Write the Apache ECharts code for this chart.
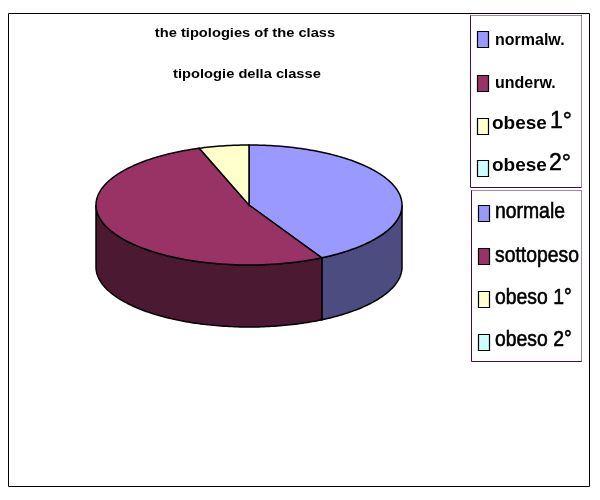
<!DOCTYPE html>
<html>
<head>
<meta charset="utf-8">
<style>html,body{margin:0;padding:0;background:#fff}#c{width:600px;height:500px}</style>
<script src="https://cdn.jsdelivr.net/npm/echarts@6/dist/echarts.min.js"></script>
</head>
<body>
<div id="c"></div>
<script>
const titles = ['the tipologies of the class', 'tipologie della classe'];
const labelsEn = ['normalw.', 'underw.', 'obese', 'obese'];
const labelsEnSuffix = ['', '', '1°', '2°'];
const labelsIt = ['normale', 'sottopeso', 'obeso 1°', 'obeso 2°'];
const values = [8, 10, 1, 0];
const topColors = ['#9999FF', '#993366', '#FFFFCC', '#CCFFFF'];
const sideColors = ['#4C4C80', '#4C1933', '#808066', '#668080'];

const CX = 249, CY = 205, RX = 153, RY = 60, DEPTH = 62;
const total = values.reduce((a, b) => a + b, 0);
const FONT = '"Liberation Sans", Arial, sans-serif';

function pt(deg, dy) {
  const r = deg * Math.PI / 180;
  return [CX + RX * Math.sin(r), CY - RY * Math.cos(r) + (dy || 0)];
}
function arc(a0, a1, dy) {
  const pts = [];
  const n = Math.max(1, Math.ceil(Math.abs(a1 - a0)));
  for (let i = 0; i <= n; i++) pts.push(pt(a0 + (a1 - a0) * i / n, dy));
  return pts;
}
function startAngle(i) {
  let s = 0;
  for (let k = 0; k < i; k++) s += values[k];
  return s / total * 360;
}
function renderWall(params, api) {
  const i = params.dataIndex;
  const a0 = Math.max(startAngle(i), 90);
  const a1 = Math.min(startAngle(i) + api.value(1) / total * 360, 270);
  if (a1 <= a0) return null;
  const points = arc(a0, a1, 0).concat(arc(a1, a0, DEPTH));
  return {
    type: 'polygon',
    shape: { points },
    style: { fill: sideColors[i], stroke: '#000', lineWidth: 1.5 }
  };
}
function renderTop(params, api) {
  const i = params.dataIndex;
  const v = api.value(1);
  if (v <= 0) return null;
  const a0 = startAngle(i), a1 = a0 + v / total * 360;
  const points = [[CX, CY]].concat(arc(a0, a1, 0));
  return {
    type: 'polygon',
    shape: { points },
    style: { fill: topColors[i], stroke: '#000', lineWidth: 1.5 }
  };
}

function legendBox(x, y, w, h) {
  const dotted = { fill: 'none', stroke: '#3a0f4a', lineWidth: 1, lineDash: [1, 1] };
  return [
    { type: 'rect', z: 5, shape: { x, y, width: w, height: h }, style: { fill: '#fff', stroke: null } },
    { type: 'line', z: 6, shape: { x1: x, y1: y, x2: x + w, y2: y }, style: dotted },
    { type: 'line', z: 6, shape: { x1: x, y1: y, x2: x, y2: y + h }, style: { stroke: '#3a0f4a', lineWidth: 1 } },
    { type: 'line', z: 6, shape: { x1: x + w, y1: y, x2: x + w, y2: y + h }, style: dotted },
    { type: 'line', z: 6, shape: { x1: x, y1: y + h, x2: x + w, y2: y + h }, style: { stroke: '#3a0f4a', lineWidth: 1 } }
  ];
}
const graphics = [
  { type: 'rect', z: 0, shape: { x: 8.5, y: 13.5, width: 581, height: 473 },
    style: { fill: 'none', stroke: '#000', lineWidth: 1 } }
].concat(legendBox(470.5, 15.5, 111, 172), legendBox(471.5, 190.5, 110, 171));

titles.forEach((t, i) => {
  graphics.push({ type: 'text', z: 7, x: i ? 247 : 245, y: i ? 74 : 33, scaleX: 1.13,
    style: { text: t, fill: '#000', font: 'bold 13px ' + FONT, textAlign: 'center', textVerticalAlign: 'middle' } });
});

const swatchEnY = [31, 75, 118, 160];
const swatchItY = [205, 248, 291, 334];
const textEnY = [41, 84, 124, 166];
const textItY = [212, 256, 298, 340];
topColors.forEach((c, i) => {
  graphics.push({ type: 'rect', z: 6, shape: { x: 477.5, y: swatchEnY[i] + 0.5, width: 11, height: 16 },
    style: { fill: c, stroke: '#000', lineWidth: 1.2 } });
  graphics.push({ type: 'rect', z: 6, shape: { x: 478.5, y: swatchItY[i] + 0.5, width: 11, height: 16 },
    style: { fill: c, stroke: '#000', lineWidth: 1.2 } });
  const big = i >= 2;
  graphics.push({ type: 'text', z: 7, x: big ? 492 : 495, y: textEnY[i],
    style: { text: labelsEn[i], fill: '#000', font: 'bold ' + (big ? 19 : 16) + 'px ' + FONT, textVerticalAlign: 'middle' } });
  if (labelsEnSuffix[i]) {
    graphics.push({ type: 'text', z: 7, x: i === 2 ? 550 : 549, y: textEnY[i] - 2,
      style: { text: labelsEnSuffix[i], fill: '#000', font: '23px ' + FONT, textVerticalAlign: 'middle',
        stroke: '#000', lineWidth: 0.5 } });
  }
  graphics.push({ type: 'text', z: 7, x: 495, y: textItY[i], scaleX: 0.88,
    style: { text: labelsIt[i], fill: '#000', font: '22px ' + FONT, textVerticalAlign: 'middle',
      stroke: '#000', lineWidth: 0.6 } });
});

const data = values.map((v, i) => [i, v]);
const chart = echarts.init(document.getElementById('c'), null, { renderer: 'canvas' });
chart.setOption({
  animation: false,
  backgroundColor: '#fff',
  graphic: graphics,
  series: [
    { type: 'custom', coordinateSystem: 'none', renderItem: renderWall, data, z: 2, silent: true },
    { type: 'custom', coordinateSystem: 'none', renderItem: renderTop, data, z: 3, silent: true }
  ]
});
</script>
</body>
</html>
